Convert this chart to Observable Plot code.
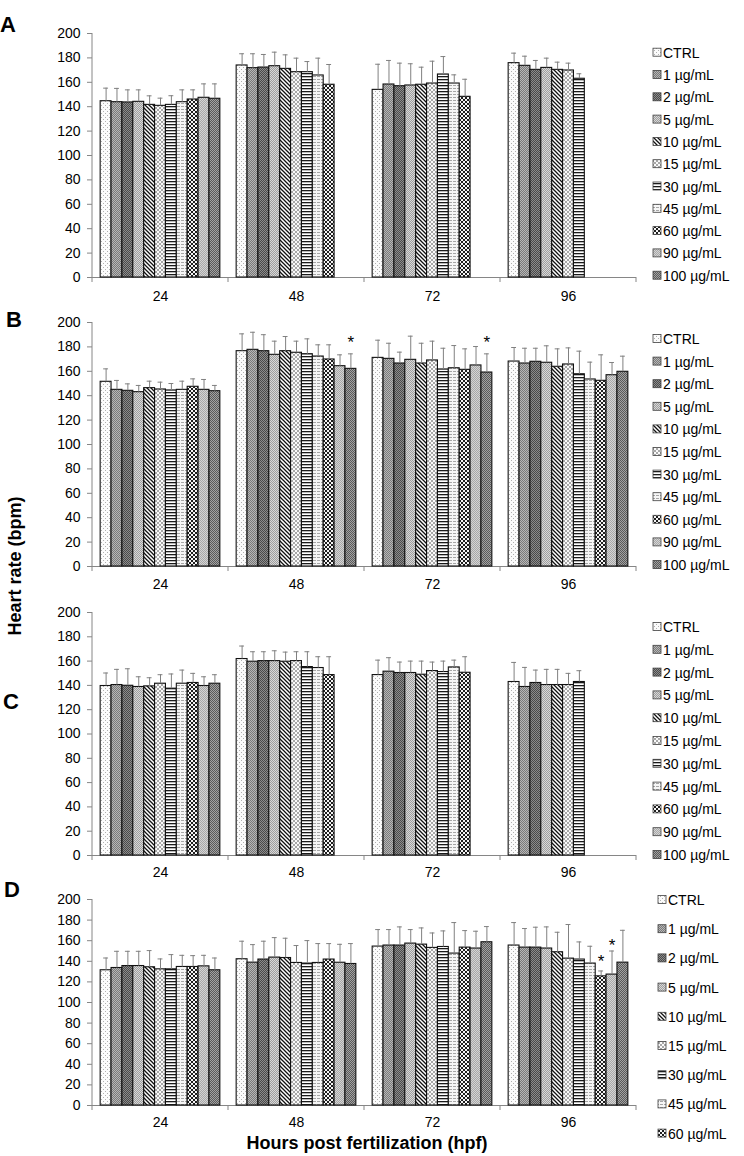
<!DOCTYPE html>
<html><head><meta charset="utf-8">
<script src="https://cdn.jsdelivr.net/npm/d3@7"></script>
<script src="https://cdn.jsdelivr.net/npm/@observablehq/plot@0.6"></script>
<style>
body{margin:0;background:#fff;font-family:"Liberation Sans",Arial,sans-serif;}
#root{position:relative;width:744px;height:1156px;overflow:hidden;background:#fff;}
#root svg{position:absolute;left:0;}
</style></head><body><div id="root"></div>
<script>
// ---------- data ----------
const concentrations = ["CTRL","1 µg/mL","2 µg/mL","5 µg/mL","10 µg/mL","15 µg/mL","30 µg/mL","45 µg/mL","60 µg/mL","90 µg/mL","100 µg/mL"];
const hours = ["24","48","72","96"];
const yTicks = [0,20,40,60,80,100,120,140,160,180,200];

// Panel A (means and SD per hour; missing bars simply absent)
const meanA = [
  [144.5,143.7,143.5,144,141.5,140.7,141.5,143.7,145.9,147.3,146.5],
  [173.8,171.6,172.1,173.2,171,168.3,168.3,165.6,158],
  [153.8,158.2,156.8,157.4,158,159,166.4,159,148.1],
  [175.7,173.5,170.2,171.8,170.2,169.7,162.9]
];
const sdA = [
  [10.7,11.3,10.3,9.8,7.4,6.3,7.5,10.1,7.9,11.4,12.2],
  [9.6,11.8,10.7,11.5,11.5,11.5,8.7,14.2,16.6],
  [21,19.7,18.9,17.8,14.4,18.3,14.7,7.1,14.4],
  [8.2,7.9,7.7,8,6.3,6,4.1]
];
// Panel B
const meanB = [
  [151.4,144.8,144,142.9,146.2,145.1,144.3,144.8,147.3,144.8,143.7],
  [176.5,177.6,176.5,173.5,176.5,175.2,174,172.1,169.7,164.2,162],
  [171,170.2,166.4,169.4,166.4,168.9,161.5,162.5,161.2,164.8,159],
  [168,166.4,167.8,167,163.7,165.6,157.6,153.3,152.2,156.8,159.6]
];
const sdB = [
  [10.6,7.7,5.7,5.5,5.7,6,5.7,7.1,6.5,8.5,4.7],
  [14.2,14.4,13.5,11.2,12,9.5,12.6,9.6,12,9.3,12.3],
  [14.5,12.8,9.3,19.4,16.6,15.8,17.4,18.6,17.2,15.5,15.3],
  [11.5,12.5,11.1,13.9,14.7,13.6,18.9,14.2,21.3,10.4,12.8]
];
const starsB = [
  {hour:"48", conc:"100 µg/mL", y:186.6},
  {hour:"72", conc:"100 µg/mL", y:186.6}
];
// Panel C
const meanC = [
  [139.5,140.3,139.7,138.7,139.2,141.4,137.3,141.4,142,139.5,141.4],
  [161.7,159.5,160,160,159.5,160,155.1,154.3,148.5],
  [148.5,151.3,150.2,150.2,148.8,151.8,151,154.8,150.4],
  [142.8,138.7,142,140.3,140.3,140.3,142.8]
];
const sdC = [
  [10.7,12.9,14,8.4,7.1,7.4,12.1,11.2,7.9,7.6,7.4],
  [10.7,8.2,7.7,8.5,7.9,7.7,12.6,9.3,15.1],
  [12.3,11.5,9,9.8,11.2,7.4,9,6,13.2],
  [16.1,16.1,10.6,12.9,12.9,9.6,9.3]
];
// Panel D
const meanD = [
  [131.3,133.5,135.4,135.4,134.2,132.2,132.2,134.5,134.5,135.1,131.3],
  [142,138.7,141.7,143.6,143.2,138.4,137.8,138.4,141.7,138.6,137.4],
  [154.3,155.3,155.3,157.2,156.2,153,153.9,147.5,153.3,152.4,158.5],
  [155.3,153.3,153.3,152.4,148.8,142.6,141.7,137.8,125.4,127.1,138.7]
];
const sdD = [
  [11.9,16.2,14.3,14.3,16.2,10.1,14.3,11.3,11,10.7,11.9],
  [17.5,17.5,17.8,19.4,19.2,16.9,22.3,18.8,15.5,17.9,19.8],
  [16.5,15.5,18.1,13.6,16.2,14.5,15.6,30.1,16.5,16.8,15.2],
  [22.3,18.5,19.8,21,19.4,33.1,17.1,16.8,5.2,22.9,31.4]
];
const starsD = [
  {hour:"96", conc:"60 µg/mL", y:143.6},
  {hour:"96", conc:"90 µg/mL", y:158.8}
];
const legendCountD = 9;

// ---------- patterns ----------
const root = document.getElementById("root");
const overlay = d3.select(root).append("svg").attr("width",744).attr("height",1156)
  .style("top","0px").style("pointer-events","none");
const defs = overlay.append("defs");
function pat(id, w, h, bg, parts){
  const p = defs.append("pattern").attr("id",id).attr("patternUnits","userSpaceOnUse").attr("width",w).attr("height",h);
  p.append("rect").attr("width",w).attr("height",h).attr("fill",bg);
  parts.forEach(([x,y,pw,ph,c]) => p.append("rect").attr("x",x).attr("y",y).attr("width",pw).attr("height",ph).attr("fill",c));
  return p;
}
pat("p0",4,4,"#fbfbfb",[[0,0,1,1,"#b0b0b0"],[2,2,1,1,"#b0b0b0"]]);
pat("p1",2,2,"#7a7a7a",[[0,0,1,1,"#b6b6b6"],[1,1,1,1,"#b6b6b6"]]);
pat("p2",2,2,"#4a4a4a",[[0,0,1,1,"#8c8c8c"],[1,1,1,1,"#8c8c8c"]]);
pat("p3",2,2,"#9e9e9e",[[0,0,1,1,"#d8d8d8"],[1,1,1,1,"#d8d8d8"]]);
const p4 = pat("p4",4,4,"#ffffff",[]);
p4.append("path").attr("d","M0,0L4,4M-1,3L1,5M3,-1L5,1").attr("stroke","#111").attr("stroke-width",1.3);
pat("p5",4,4,"#fafafa",[[0,0,2,2,"#a8a8a8"],[2,2,2,2,"#a8a8a8"]]);
pat("p6",3,3,"#ffffff",[[0,0,3,1.3,"#1a1a1a"]]);
pat("p7",4,3,"#f6f6f6",[[0,0,3,1,"#a6a6a6"]]);
pat("p8",4,4,"#f5f5f5",[[0,0,2,2,"#1e1e1e"],[2,2,2,2,"#1e1e1e"]]);
pat("p9",2,2,"#a8a8a8",[[0,0,1,1,"#d4d4d4"],[1,1,1,1,"#d4d4d4"]]);
pat("p10",2,2,"#5a5a5a",[[0,0,1,1,"#a2a2a2"],[1,1,1,1,"#a2a2a2"]]);
const patternUrls = concentrations.map((c,i) => `url(#p${i})`);

// ---------- panels ----------
const font = "Liberation Sans, Arial, sans-serif";
const panels = [
  {key:"A", mean:meanA, sd:sdA, stars:[], y200:33, y0:277, pad:14, legTop:52.7, legStep:22.3, legX:653, n:11, lx:0, ly:32},
  {key:"B", mean:meanB, sd:sdB, stars:starsB, y200:322, y0:566, pad:13, legTop:339, legStep:22.6, legX:653, n:11, lx:6, ly:327},
  {key:"C", mean:meanC, sd:sdC, stars:[], y200:612, y0:855, pad:12, legTop:627, legStep:22.8, legX:653, n:11, lx:3, ly:709},
  {key:"D", mean:meanD, sd:sdD, stars:starsD, y200:899, y0:1105, pad:12, legTop:900, legStep:29.2, legX:658, n:legendCountD, lx:4, ly:897}
];

panels.forEach(P => {
  const rows = [];
  P.mean.forEach((arr, h) => arr.forEach((m, i) => rows.push({hour: hours[h], conc: concentrations[i], mean: m, hi: m + P.sd[h][i]})));
  const mt = 20, mb = 30;
  const chart = Plot.plot({
    width: 744, height: (P.y0 - P.y200) + mt + mb,
    marginTop: mt, marginBottom: mb, marginLeft: 91, marginRight: 107,
    style: {fontFamily: font, fontSize: "14px", color: "black", background: "transparent", overflow: "visible"},
    fx: {domain: hours, padding: 0, axis: "bottom", label: null, tickSize: 0, tickPadding: P.pad},
    x: {domain: concentrations, paddingInner: 0, paddingOuter: 0.75, axis: null, round: false},
    y: {domain: [0, 200], axis: null},
    color: {domain: concentrations, range: patternUrls},
    marks: [
      Plot.axisY({ticks: yTicks, tickSize: 5, tickPadding: 7, stroke: "#868686", fill: "black", label: null}),
      Plot.ruleY([0], {stroke: "#868686"}),
      Plot.barY(rows, {fx: "hour", x: "conc", y: "mean", fill: "conc", stroke: "#111", strokeWidth: 1.1}),
      Plot.ruleX(rows, {fx: "hour", x: "conc", y1: "mean", y2: "hi", stroke: "#808080"}),
      Plot.tickY(rows, {fx: "hour", x: "conc", y: "hi", stroke: "#808080", insetLeft: 3, insetRight: 3}),
      Plot.text(P.stars, {fx: "hour", x: "conc", y: "y", text: () => "*", fontSize: 17, dy: 4})
    ]
  });
  chart.style.top = (P.y200 - mt) + "px";
  root.insertBefore(chart, overlay.node());
  // axis line and category separators from Plot's scales
  const fx = chart.scale("fx"), y = chart.scale("y");
  const edges = hours.map(h => fx.apply(h));
  edges.push(edges[edges.length - 1] + fx.bandwidth);
  const g = d3.select(chart).append("g").attr("stroke", "#868686").attr("stroke-width", 1);
  g.append("line").attr("x1", edges[0]).attr("x2", edges[0]).attr("y1", y.apply(200)).attr("y2", y.apply(0));
  edges.forEach(e => g.append("line").attr("x1", e).attr("x2", e).attr("y1", y.apply(0)).attr("y2", y.apply(0) + 5));

  // panel letter
  overlay.append("text").attr("x", P.lx).attr("y", P.ly).attr("font-family", font)
    .attr("font-size", 22).attr("font-weight", "bold").text(P.key);
  // legend
  const lg = overlay.append("g").attr("font-family", font).attr("font-size", 14);
  concentrations.slice(0, P.n).forEach((c, i) => {
    const cy = P.legTop + i * P.legStep;
    lg.append("rect").attr("x", P.legX).attr("y", cy - 4.5).attr("width", 8).attr("height", 8)
      .attr("fill", patternUrls[i]).attr("stroke", "#404040").attr("stroke-width", 0.8);
    lg.append("text").attr("x", P.legX + 10).attr("y", cy + 5).text(c);
  });
});

// axis titles
overlay.append("text").attr("transform", "translate(21,566) rotate(-90)").attr("text-anchor", "middle")
  .attr("font-family", font).attr("font-size", 18).attr("font-weight", "bold").text("Heart rate (bpm)");
overlay.append("text").attr("x", 367).attr("y", 1149).attr("text-anchor", "middle")
  .attr("font-family", font).attr("font-size", 18).attr("font-weight", "bold").text("Hours post fertilization (hpf)");
</script></body></html>
